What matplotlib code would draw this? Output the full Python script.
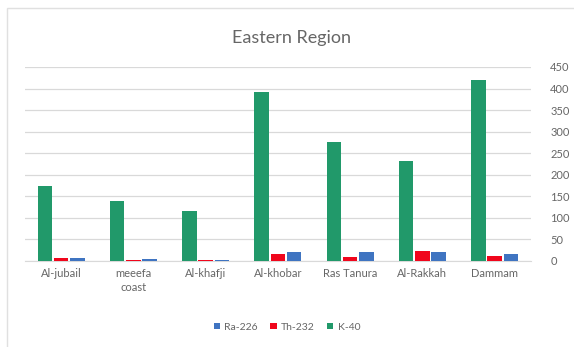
import numpy as np
import matplotlib
matplotlib.use('Agg')
import matplotlib.pyplot as plt
from matplotlib.patches import Rectangle

plt.rcParams['font.family'] = ['Lato', 'DejaVu Sans']

sites = ['Al-jubail', 'meeefa\ncoast', 'Al-khafji', 'Al-khobar', 'Ras Tanura', 'Al-Rakkah', 'Dammam']
ra226 = [7, 5, 2, 21, 21, 21, 17]
th232 = [6, 2, 2, 17, 9, 22, 12]
k40 = [173, 138, 115, 391, 277, 233, 419]

c_ra = '#3F74C1'
c_th = '#F0061C'
c_k = '#21996A'
grey = '#666666'

fig = plt.figure(figsize=(5.74, 3.47), dpi=100)
ax = fig.add_axes([0.0436, 0.248, 0.881, 0.559])

x = np.arange(len(sites))
w = 0.2
gap = 0.025
ax.bar(x - w - gap, k40, w, color=c_k, label='K-40', zorder=3)
ax.bar(x, th232, w, color=c_th, label='Th-232', zorder=3)
ax.bar(x + w + gap, ra226, w, color=c_ra, label='Ra-226', zorder=3)

ax.set_xlim(-0.5, len(sites) - 0.5)
ax.set_ylim(0, 450)
ax.set_yticks(np.arange(0, 451, 50))
ax.yaxis.tick_right()
ax.yaxis.grid(True, color='#D9D9D9', linewidth=0.9, zorder=0)
ax.set_xticks(x)
ax.set_xticklabels(sites, linespacing=1.4)
ax.tick_params(axis='both', length=0, labelsize=8, colors=grey, pad=5)
ax.tick_params(axis='y', pad=14)
for s in ['top', 'right', 'left']:
    ax.spines[s].set_visible(False)
ax.spines['bottom'].set_color('#D9D9D9')

fig.text(0.507, 0.89, 'Eastern Region', ha='center', va='center', fontsize=13, color=grey)

# legend order: Ra-226, Th-232, K-40
h, l = ax.get_legend_handles_labels()
leg = fig.legend(h[::-1], l[::-1], loc='center', bbox_to_anchor=(0.5, 0.057), ncol=3, frameon=False,
                 fontsize=7.5, handlelength=0.6, handleheight=0.6, handletextpad=0.4, columnspacing=1.2)
for t in leg.get_texts():
    t.set_color(grey)

# chart frame
fig.patches.append(Rectangle((7 / 574, -0.1), 1.2, 1.1 - 8 / 347, transform=fig.transFigure,
                             fill=False, edgecolor='#E0E0E0', linewidth=1.0))

fig.savefig('out.png', dpi=100)
